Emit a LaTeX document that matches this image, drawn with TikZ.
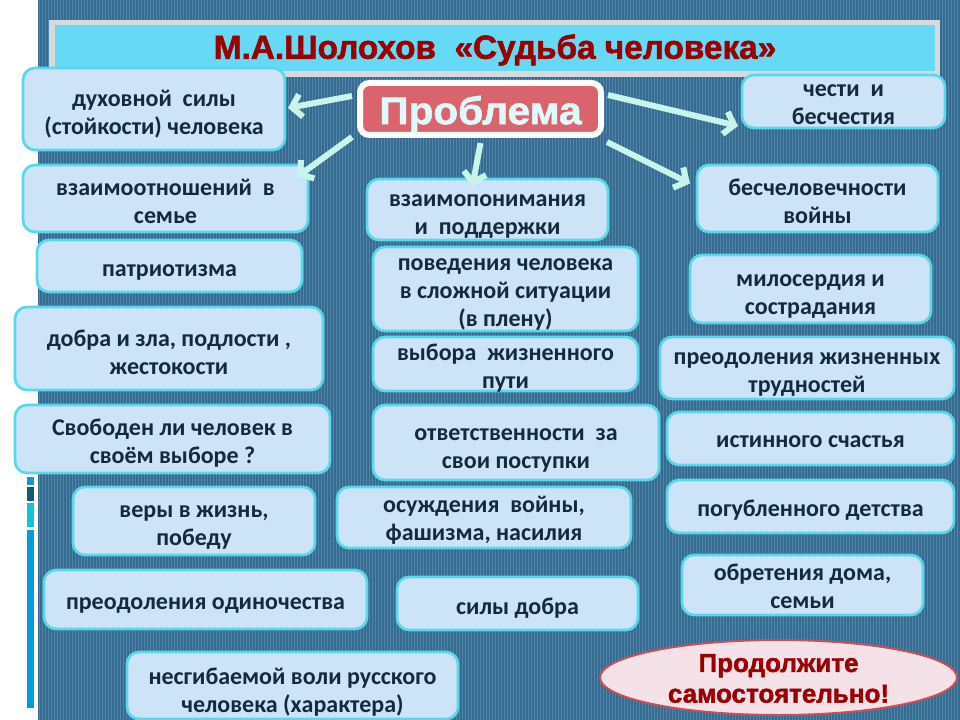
\documentclass[tikz,border=0pt]{standalone}
\usepackage{fontspec}
\setmainfont{Carlito}
\newfontfamily\heavyfont{Liberation Sans}[BoldFeatures={FakeBold=1.6}]
\usetikzlibrary{arrows.meta,shapes.geometric}
\definecolor{bgbase}{RGB}{54,106,142}
\definecolor{bgstripe}{RGB}{78,134,172}
\definecolor{titlegrey}{RGB}{215,218,220}
\definecolor{titlecyan}{RGB}{102,217,245}
\definecolor{titlered}{RGB}{155,0,0}
\definecolor{probfill}{RGB}{217,100,110}
\definecolor{probtext}{RGB}{222,250,250}
\definecolor{arrowc}{RGB}{200,245,235}
\definecolor{boxfill}{RGB}{205,228,248}
\definecolor{boxborder}{RGB}{90,215,235}
\definecolor{boxtext}{RGB}{20,40,62}
\definecolor{ellfill}{RGB}{245,225,232}
\definecolor{ellborder}{RGB}{200,80,90}
\definecolor{sqa}{RGB}{20,150,210}
\definecolor{sqb}{RGB}{15,90,115}
\definecolor{sqc}{RGB}{20,195,210}
\definecolor{sqd}{RGB}{5,155,215}
% name, x1, y1, x2, y2, text shift (px, down), text
\newcommand\pbox[7]{%
  \node[pbx,minimum width={(#4-#2)*0.75pt},minimum height={(#5-#3)*0.75pt}] (#1) at ({(#2+#4)/2},{(#3+#5)/2}) {};
  \node[pbxt] (#1t) at ([shift={(0,#6)}]#1.center) {#7};}
\begin{document}
\begin{tikzpicture}[x=0.75pt,y=-0.75pt,
  pbx/.style={draw=boxborder,fill=boxfill,line width=2pt,rounded corners=9pt,inner sep=0pt,outer sep=0pt},
  pbxt/.style={inner sep=0pt,align=center,text=boxtext,font=\fontsize{18}{21}\selectfont\bfseries},
  probbox/.style={draw=white,fill=probfill,line width=4.5pt,rounded corners=7pt,inner sep=0pt,outer sep=0pt},
  probtxt/.style={inner sep=0pt,text=probtext,font=\heavyfont\bfseries\fontsize{29}{32}\selectfont},
  titletext/.style={text=titlered,font=\heavyfont\bfseries\fontsize{25}{28}\selectfont,inner sep=0pt},
  ellbox/.style={ellipse,draw=ellborder,fill=ellfill,line width=1.5pt,inner sep=0pt,outer sep=0pt},
  elltxt/.style={inner sep=0pt,align=center,text=titlered,font=\heavyfont\bfseries\fontsize{19.5}{23}\selectfont},
  arr/.style={draw=arrowc,line width=4.5pt,-{Straight Barb[length=7pt,width=17pt]}}]
\useasboundingbox (0,0) rectangle (960,720);
\fill[white] (0,0) rectangle (960,720);
\fill[bgbase] (38,0) rectangle (960,720);
\foreach \x in {39,42,...,959} \draw[bgstripe,line width=0.75pt] (\x,0) -- (\x,720);
% left strip squares
\fill[sqa] (27,477) rectangle (34,485);
\fill[sqb] (27,487) rectangle (34,501);
\fill[sqc] (27,503) rectangle (34,527);
\fill[sqd] (27,530) rectangle (34,708);
% title bar
\fill[titlegrey] (49,20) rectangle (940,77);
\fill[titlecyan] (55,25) rectangle (935,71);
\node[titletext] (title) at (495,50) {М.А.Шолохов~ «Судьба человека»};
% central node
\node[probbox,minimum width={(601-360)*0.75pt},minimum height={(135-83)*0.75pt}] (prob) at (480.5,109) {};
\node[probtxt] (probt) at ([shift={(0,5)}]prob.center) {\scalebox{1.05}[1]{Проблема}};
% left column
\pbox{b1}{23}{68}{285}{150}{5}{духовной~ силы\\(стойкости) человека}
\pbox{b2}{23}{165}{308}{232}{3}{взаимоотношений~ в\\семье}
\pbox{b3}{37}{240}{302}{292}{6}{патриотизма}
\pbox{b4}{15}{307}{323}{390}{3.5}{добра и зла, подлости ,\\жестокости}
\pbox{b5}{15}{405}{330}{473}{4}{Свободен ли человек в\\своём выборе ?}
\pbox{b6}{73}{487}{315}{555}{7}{веры в жизнь,\\победу}
\pbox{b7}{44}{570}{367}{629}{6}{преодоления одиночества}
\pbox{b8}{127}{652}{458}{719}{7}{несгибаемой воли русского\\человека (характера)}
% middle column
\pbox{b9}{367}{179}{608}{240}{7}{взаимопонимания\\и~ поддержки}
\pbox{b10}{373}{247}{638}{331}{5}{поведения человека\\в сложной ситуации\\(в плену)}
\pbox{b11}{373}{337}{638}{391}{4.5}{выбора~ жизненного\\пути}
\pbox{b12}{373}{405}{659}{480}{8}{ответственности~ за\\свои поступки}
\pbox{b13}{337}{487}{631}{548}{2.5}{осуждения~ войны,\\фашизма, насилия}
\pbox{b14}{397}{577}{638}{630}{5}{силы добра}
% right column
\pbox{b15}{742}{75}{945}{128}{3.5}{чести~ и\\бесчестия}
\pbox{b16}{697}{165}{938}{232}{2.5}{бесчеловечности\\войны}
\pbox{b17}{690}{255}{931}{323}{7.5}{милосердия и\\сострадания}
\pbox{b18}{660}{337}{954}{399}{6.5}{преодоления жизненных\\трудностей}
\pbox{b19}{667}{412}{954}{465}{3}{истинного счастья}
\pbox{b20}{667}{480}{954}{533}{4}{погубленного детства}
\pbox{b21}{682}{555}{923}{615}{1}{обретения дома,\\семьи}
% ellipse
\node[ellbox,minimum width={357*0.75pt},minimum height={75*0.75pt}] (cont) at (778.5,677.5) {};
\node[elltxt] (contt) at ([shift={(0,1)}]cont.center) {Продолжите\\самостоятельно!};
% arrows
\draw[arr] ([shift={(-8,-13)}]prob.west) -- ([shift={(3,-1)}]b1.east);
\draw[arr] ([shift={(-8,2)}]prob.south west) -- ([shift={(-11,12)}]b2.north east);
\draw[arr] ([shift={(0,8)}]prob.south) -- ([shift={(-15,7)}]b9.north);
\draw[arr] ([shift={(7,-14)}]prob.east) -- ([shift={(-4,-2)}]b15.south west);
\draw[arr] ([shift={(6,7)}]prob.south east) -- ([shift={(-7,-15)}]b16.west);
\end{tikzpicture}
\end{document}
